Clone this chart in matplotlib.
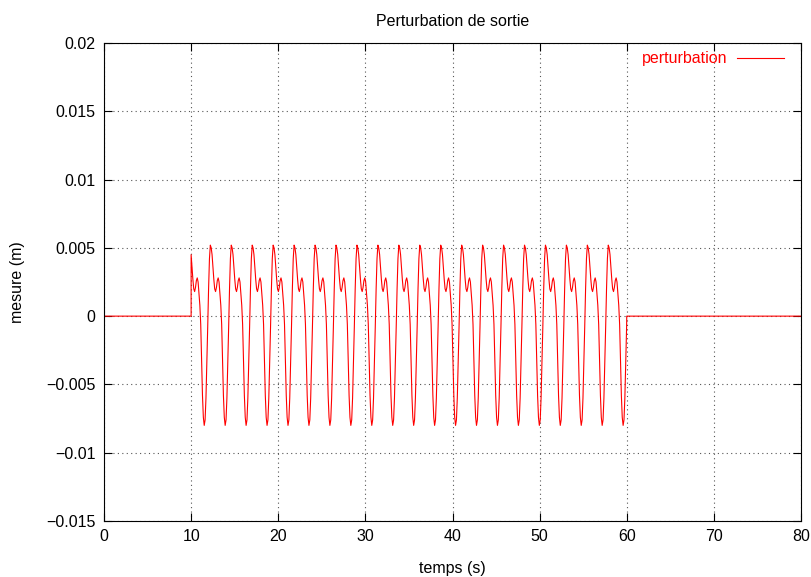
import numpy as np
import matplotlib
matplotlib.use("Agg")
import matplotlib.pyplot as plt

plt.rcParams['font.family'] = ['Liberation Sans', 'DejaVu Sans']

# --- data ---
t_start = 0.0
t_on = 10.0          # disturbance switched on
t_off = 60.0         # disturbance switched off
t_end = 80.0
period = 2.404       # seconds per oscillation
# one oscillation of the waveform (starting at the big peak)
one_period = [0.0052, 0.0050, 0.0045, 0.0036, 0.0027, 0.0020, 0.0018, 0.0021,
              0.0026, 0.0028, 0.0025, 0.0017, 0.0008, -0.0006, -0.0032, -0.0058,
              -0.0074, -0.0080, -0.0076, -0.0060, -0.0035, -0.0008, 0.0020, 0.0042]
start_index = 2      # waveform sample at which the signal begins at t_on

x_ticks = [0, 10, 20, 30, 40, 50, 60, 70, 80]
y_ticks = [-0.015, -0.01, -0.005, 0, 0.005, 0.01, 0.015, 0.02]
y_tick_labels = ['\u22120.015', '\u22120.01', '\u22120.005', '0', '0.005', '0.01', '0.015', '0.02']

# --- build the series ---
n = len(one_period)
dt = period / n
k = np.arange(int((t_off - t_on) / dt) + 1)
t_osc = t_on + k * dt
y_osc = np.array(one_period)[(k + start_index) % n]
t = np.concatenate([[t_start, t_on], t_osc, [t_off, t_end]])
y = np.concatenate([[0.0, 0.0], y_osc, [0.0, 0.0]])

fs = 11.5
fig = plt.figure(figsize=(8.11, 5.77), dpi=100)
ax = fig.add_axes([104/811, 1 - 521/577, (801-104)/811, (521-43)/577])

ax.plot(t, y, color='red', lw=0.8, label='perturbation')

ax.set_xlim(0, 80)
ax.set_ylim(-0.015, 0.02)
ax.set_xticks(x_ticks)
ax.set_yticks(y_ticks)
ax.set_yticklabels(y_tick_labels)
ax.tick_params(direction='in', top=True, right=True, length=6, width=0.8,
               labelsize=fs, pad=6)
ax.grid(True, color='#555555', linestyle=(0, (1, 3)), linewidth=0.8)
for s in ax.spines.values():
    s.set_linewidth(0.8)

ax.set_title('Perturbation de sortie', fontsize=fs, pad=12)
ax.set_xlabel('temps (s)', fontsize=fs, labelpad=12)
ax.set_ylabel('mesure (m)', fontsize=fs, labelpad=15)

leg = ax.legend(loc='upper right', bbox_to_anchor=(1 - 11/697, 1 - 2/478),
                frameon=False, markerfirst=False,
                labelcolor='red', fontsize=fs, handlelength=2.9,
                borderaxespad=0.0, handletextpad=0.6)

fig.savefig('out.png', dpi=100)
